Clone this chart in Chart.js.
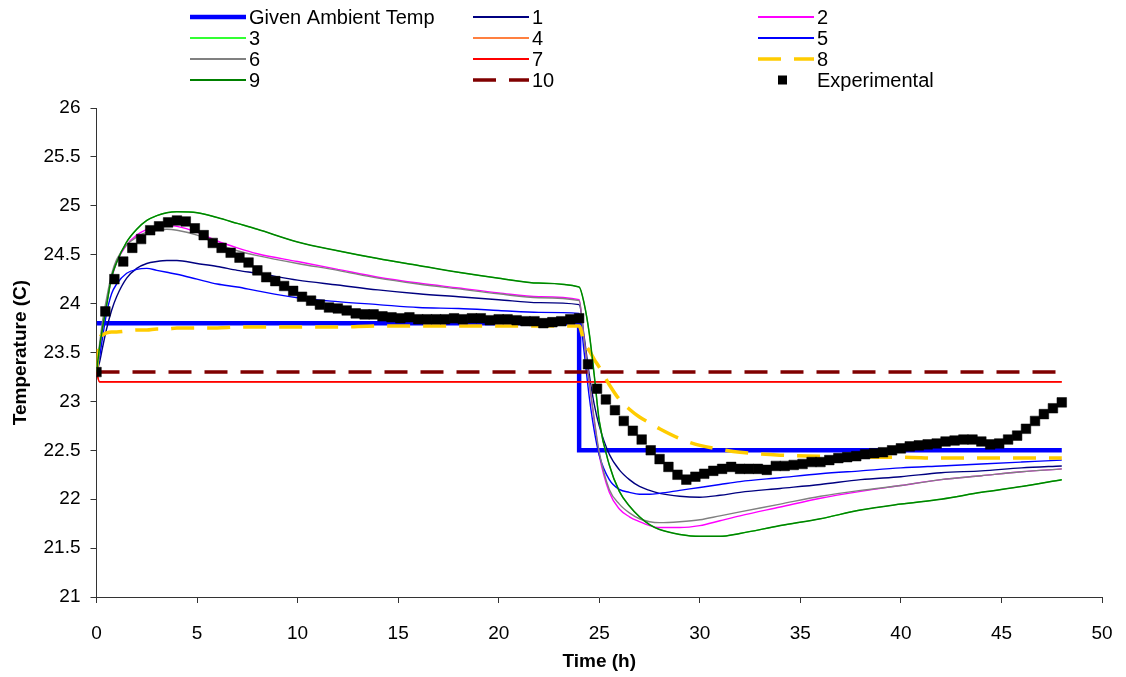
<!DOCTYPE html>
<html>
<head>
<meta charset="utf-8">
<script src="https://cdn.jsdelivr.net/npm/chart.js@4.4.1/dist/chart.umd.min.js"></script>
<style>
html, body { margin: 0; padding: 0; background: #fff; }
</style>
</head>
<body>
<canvas id="tempChart" width="1126" height="677"></canvas>
<script>
const FONT = '"Liberation Sans", Arial, sans-serif';

// Given ambient temperature (step at 24 h)
const ambientTimes = [0, 24, 24, 48];
const ambientTemps = [23.8, 23.8, 22.5, 22.5];

// Flat series span the whole run
const flatTimes = [0, 48];
const series10 = [23.3, 23.3];

// Sample times shared by the model curves
const modelTimes = [0, 0.15, 0.3, 0.5, 0.75, 1, 1.5, 2, 2.5, 3, 3.5, 4, 5, 6, 7, 8, 10, 12, 14, 16,
    18, 20, 22, 24, 24.25, 24.5, 24.75, 25, 25.5, 26, 26.5, 27, 27.5, 28, 29, 30, 31, 32, 34,
    36, 38, 40, 42, 44, 46, 48];

const series1 = [23.3, 23.4, 23.55, 23.74, 23.93, 24.07, 24.26, 24.36, 24.41, 24.43,
    24.44, 24.44, 24.41, 24.38, 24.34, 24.31, 24.24, 24.19, 24.14, 24.10,
    24.07, 24.04, 24.01, 23.99, 23.66, 23.28, 22.97, 22.75, 22.46,
    22.30, 22.20, 22.13, 22.09, 22.06, 22.03, 22.02, 22.04, 22.07, 22.11,
    22.15, 22.20, 22.23, 22.27, 22.29, 22.32, 22.34];
const series2 = [23.3, 23.52, 23.75, 24.0, 24.25, 24.42, 24.6, 24.7, 24.76, 24.79,
    24.8, 24.79, 24.73, 24.64, 24.57, 24.51, 24.43, 24.35, 24.27, 24.21,
    24.16, 24.11, 24.07, 24.04, 23.62, 23.2, 22.8, 22.45, 22.07,
    21.9, 21.82, 21.77, 21.73, 21.71, 21.71, 21.73, 21.78, 21.83, 21.92,
    22.01, 22.08, 22.14, 22.2, 22.24, 22.28, 22.31];
const series5 = [23.3, 23.45, 23.65, 23.9, 24.1, 24.2, 24.31, 24.35, 24.36, 24.34,
    24.32, 24.3, 24.25, 24.2, 24.17, 24.13, 24.06, 24.02, 23.99, 23.96,
    23.95, 23.93, 23.91, 23.9, 23.5, 23.05, 22.7, 22.45, 22.2,
    22.1, 22.07, 22.05, 22.05, 22.06, 22.09, 22.12, 22.15, 22.18, 22.22,
    22.26, 22.29, 22.32, 22.34, 22.36, 22.38, 22.4];
const series6 = [23.3, 23.58, 23.82, 24.05, 24.3, 24.45, 24.6, 24.68, 24.73, 24.75,
    24.76, 24.75, 24.7, 24.61, 24.54, 24.49, 24.41, 24.34, 24.26, 24.2,
    24.15, 24.1, 24.06, 24.03, 23.62, 23.2, 22.82, 22.48, 22.1,
    21.95, 21.86, 21.8, 21.77, 21.76, 21.77, 21.79, 21.83, 21.87, 21.95,
    22.03, 22.09, 22.14, 22.2, 22.24, 22.28, 22.31];
const series7 = [23.3, 23.2, 23.2, 23.2, 23.2, 23.2, 23.2, 23.2, 23.2, 23.2,
    23.2, 23.2, 23.2, 23.2, 23.2, 23.2, 23.2, 23.2, 23.2, 23.2,
    23.2, 23.2, 23.2, 23.2, 23.2, 23.2, 23.2, 23.2, 23.2,
    23.2, 23.2, 23.2, 23.2, 23.2, 23.2, 23.2, 23.2, 23.2, 23.2,
    23.2, 23.2, 23.2, 23.2, 23.2, 23.2, 23.2];
const series8 = [23.3, 23.64, 23.68, 23.7, 23.71, 23.71, 23.72, 23.73, 23.73, 23.74,
    23.74, 23.75, 23.75, 23.75, 23.76, 23.76, 23.76, 23.76, 23.77, 23.77,
    23.77, 23.77, 23.77, 23.77, 23.6, 23.52, 23.43, 23.35, 23.17,
    23.02, 22.92, 22.84, 22.78, 22.72, 22.62, 22.55, 22.51, 22.48, 22.45,
    22.44, 22.43, 22.43, 22.42, 22.42, 22.42, 22.42];
const series9 = [23.3, 23.55, 23.75, 23.98, 24.27, 24.42, 24.63, 24.76, 24.85, 24.9,
    24.93, 24.94, 24.93, 24.88, 24.82, 24.76, 24.63, 24.54, 24.46, 24.39,
    24.32, 24.26, 24.21, 24.17, 24.0, 23.7, 23.27, 22.8, 22.35,
    22.08, 21.93, 21.82, 21.74, 21.69, 21.64, 21.62, 21.62, 21.65, 21.73,
    21.8, 21.89, 21.95, 22.0, 22.07, 22.13, 22.2];
// 3 and 4 are not visible in the picture: they sit under 9 and 7
const series3 = series9;
const series4 = series7;

// Experimental readings
const expTimes = [0, 0.44, 0.89, 1.33, 1.78, 2.22, 2.67, 3.11, 3.56,
    4, 4.44, 4.89, 5.33, 5.78, 6.22, 6.67, 7.11, 7.56,
    8, 8.44, 8.89, 9.33, 9.78, 10.22, 10.67, 11.11, 11.56,
    12, 12.44, 12.89, 13.33, 13.78, 14.22, 14.67, 15.11, 15.56,
    16, 16.44, 16.89, 17.33, 17.78, 18.22, 18.67, 19.11, 19.56,
    20, 20.44, 20.89, 21.33, 21.78, 22.22, 22.67, 23.11, 23.56,
    24, 24.44, 24.89, 25.33, 25.78, 26.22, 26.67, 27.11, 27.56,
    28, 28.44, 28.89, 29.33, 29.78, 30.22, 30.67, 31.11, 31.56,
    32, 32.44, 32.89, 33.33, 33.78, 34.22, 34.67, 35.11, 35.56,
    36, 36.44, 36.89, 37.33, 37.78, 38.22, 38.67, 39.11, 39.56,
    40, 40.44, 40.89, 41.33, 41.78, 42.22, 42.67, 43.11, 43.56,
    44, 44.44, 44.89, 45.33, 45.78, 46.22, 46.67, 47.11, 47.56, 48];
const expTemps = [23.30, 23.92, 24.25, 24.43, 24.57, 24.66, 24.75, 24.79, 24.83, 24.85,
    24.84, 24.77, 24.70, 24.62, 24.57, 24.52, 24.47, 24.42, 24.34, 24.27,
    24.23, 24.18, 24.13, 24.07, 24.03, 23.99, 23.96, 23.95, 23.93, 23.90,
    23.89, 23.89, 23.87, 23.86, 23.85, 23.86, 23.84, 23.84, 23.84, 23.84,
    23.85, 23.84, 23.85, 23.85, 23.83, 23.84, 23.84, 23.83, 23.82, 23.82,
    23.80, 23.81, 23.82, 23.84, 23.85, 23.38, 23.13, 23.02, 22.91, 22.80,
    22.70, 22.61, 22.50, 22.41, 22.33, 22.25, 22.20, 22.23, 22.26, 22.29,
    22.31, 22.33, 22.31, 22.31, 22.31, 22.30, 22.34, 22.34, 22.35, 22.36,
    22.38, 22.38, 22.40, 22.42, 22.43, 22.44, 22.46, 22.47, 22.48, 22.50,
    22.52, 22.54, 22.55, 22.56, 22.57, 22.59, 22.60, 22.61, 22.61, 22.59,
    22.56, 22.57, 22.61, 22.65, 22.72, 22.80, 22.87, 22.93, 22.99];

// Legend grid (3 columns x 4 rows, like the spreadsheet legend)
const LEGEND_COLS = [190, 473, 758];
const LEGEND_ROWS = [17, 38, 59, 80];

function pts(xs, ys) {
    return xs.map((x, i) => ({ x: x, y: ys[i] }));
}

function modelLine(label, vals, color, width, dash) {
    return {
        label: label,
        data: pts(modelTimes, vals),
        borderColor: color,
        borderWidth: width,
        borderDash: dash || [],
        pointRadius: 0,
        cubicInterpolationMode: 'monotone',
        fill: false
    };
}

const datasets = [
    {
        label: 'Given Ambient Temp',
        data: pts(ambientTimes, ambientTemps),
        borderColor: '#0000FF',
        borderWidth: 4.5,
        pointRadius: 0,
        tension: 0,
        fill: false
    },
    modelLine('1', series1, '#000080', 1.4),
    modelLine('2', series2, '#FF00FF', 1.4),
    modelLine('3', series3, '#33FF33', 1.2),
    modelLine('4', series4, '#FF8040', 1.2),
    modelLine('5', series5, '#0000FF', 1.4),
    modelLine('6', series6, '#808080', 1.4),
    modelLine('7', series7, '#FF0000', 1.6),
    modelLine('8', series8, '#FFCC00', 3.5, [23, 13]),
    modelLine('9', series9, '#008000', 1.5),
    {
        label: '10',
        data: pts(flatTimes, series10),
        borderColor: '#800000',
        borderWidth: 3.5,
        borderDash: [23, 13],
        pointRadius: 0,
        tension: 0,
        fill: false
    },
    {
        label: 'Experimental',
        data: pts(expTimes, expTemps),
        showLine: false,
        pointStyle: 'rect',
        pointRadius: 6.8,
        pointBackgroundColor: '#000',
        pointBorderColor: '#000',
        pointBorderWidth: 0.5
    }
];
// later series are drawn on top, as in the original
datasets.forEach((ds, i) => { ds.order = datasets.length - i; });

/**
 * Legend drawn as a fixed grid above the plot
 */
const gridLegend = {
    id: 'gridLegend',
    afterDraw(chart) {
        const ctx = chart.ctx;
        ctx.save();
        ctx.font = '20px ' + FONT;
        ctx.textBaseline = 'middle';
        chart.data.datasets.forEach((ds, i) => {
            const x0 = LEGEND_COLS[i % 3];
            const y = LEGEND_ROWS[Math.floor(i / 3)];
            if (ds.showLine === false) {
                ctx.fillStyle = '#000';
                ctx.fillRect(x0 + 20, y - 4.5, 9, 9);
            } else {
                ctx.strokeStyle = ds.borderColor;
                ctx.lineWidth = Math.max(ds.borderWidth, 1.8);
                ctx.setLineDash(ds.borderDash || []);
                ctx.beginPath();
                ctx.moveTo(x0, y);
                ctx.lineTo(x0 + 56, y);
                ctx.stroke();
                ctx.setLineDash([]);
            }
            ctx.fillStyle = '#000';
            ctx.fillText(ds.label, x0 + 59, y + 1);
        });
        ctx.restore();
    }
};

new Chart(document.getElementById('tempChart'), {
    type: 'line',
    data: { datasets: datasets },
    plugins: [gridLegend],
    options: {
        responsive: false,
        animation: false,
        layout: {
            padding: { top: 108, right: 24, bottom: 0, left: 0 }
        },
        plugins: {
            legend: { display: false },
            tooltip: { enabled: false }
        },
        scales: {
            x: {
                type: 'linear',
                min: 0,
                max: 50,
                afterFit(scale) {
                    scale.height = 80;
                    scale.paddingLeft = 0;
                    scale.paddingRight = 0;
                },
                ticks: {
                    stepSize: 5,
                    color: '#000',
                    padding: 19,
                    maxRotation: 0,
                    font: { family: FONT, size: 19 }
                },
                grid: { drawOnChartArea: false, tickLength: 6, color: '#333' },
                border: { color: '#333', width: 1 },
                title: {
                    display: true,
                    text: 'Time (h)',
                    color: '#000',
                    padding: { top: 0, bottom: 4 },
                    font: { family: FONT, size: 19, weight: 'bold' }
                }
            },
            y: {
                min: 21,
                max: 26,
                afterFit(scale) { scale.width = 96.5; },
                ticks: {
                    stepSize: 0.5,
                    color: '#000',
                    padding: 10,
                    font: { family: FONT, size: 19 },
                    callback: (value) => String(value)
                },
                grid: { drawOnChartArea: false, tickLength: 6, color: '#333' },
                border: { color: '#333', width: 1 },
                title: {
                    display: true,
                    text: 'Temperature (C)',
                    color: '#000',
                    padding: { top: 9, bottom: 0 },
                    font: { family: FONT, size: 19, weight: 'bold' }
                }
            }
        }
    }
});
</script>
</body>
</html>
